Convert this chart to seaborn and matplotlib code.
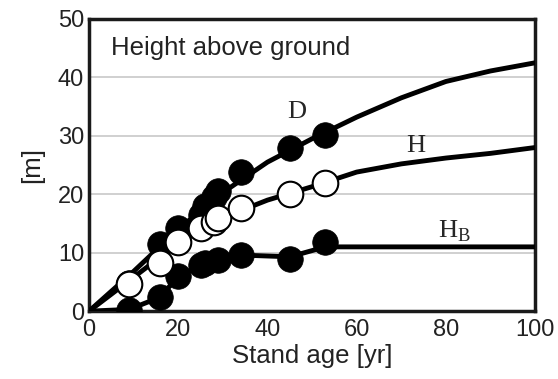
import numpy as np
import pandas as pd
import matplotlib
matplotlib.use("Agg")
import matplotlib.pyplot as plt
import seaborn as sns

# observed points
d_age = [9, 16, 20, 25, 26, 28, 29, 34, 45, 53]
d_obs = [4.8, 11.5, 14.2, 16.5, 18.0, 19.5, 20.5, 23.8, 27.9, 30.2]
h_age = [9, 16, 20, 25, 28, 29, 34, 45, 53]
h_obs = [4.7, 8.3, 11.8, 14.2, 15.2, 16.0, 17.6, 20.1, 22.0]
hb_age = [9, 16, 20, 25, 26, 29, 34, 45, 53]
hb_obs = [0.2, 2.4, 6.0, 7.9, 8.3, 8.7, 9.6, 9.0, 11.9]

# fitted curves
d_curve_age = [0, 10, 20, 30, 40, 50, 60, 70, 80, 90, 100]
d_curve = [0, 6.8, 14.0, 20.3, 25.5, 29.5, 33.2, 36.5, 39.3, 41.1, 42.5]
h_curve_age = [0, 10, 20, 30, 40, 50, 60, 70, 80, 90, 100]
h_curve = [0, 5.8, 11.6, 16.0, 19.0, 21.3, 23.8, 25.2, 26.2, 27.0, 28.0]
hb_curve_age = [0, 9, 16, 20, 26, 29, 34, 45, 53, 100]
hb_curve = [0, 0.3, 2.4, 6.0, 8.1, 8.7, 9.6, 9.3, 11.0, 11.0]

sns.set_style("white")
plt.rcParams["font.family"] = ["Liberation Sans", "DejaVu Sans"]

fig = plt.figure(figsize=(5.58, 3.79), dpi=100)
ax = fig.add_axes([0.1595, 0.179, 0.7995, 0.771])

for a, v in [(d_curve_age, d_curve), (h_curve_age, h_curve), (hb_curve_age, hb_curve)]:
    sns.lineplot(x=a, y=v, ax=ax, color="black", lw=3.5, zorder=3)

sns.scatterplot(x=d_age, y=d_obs, ax=ax, color="black", s=340,
                edgecolor="black", linewidth=0.5, zorder=4)
sns.scatterplot(x=hb_age, y=hb_obs, ax=ax, color="black", s=340,
                edgecolor="black", linewidth=0.5, zorder=4)
sns.scatterplot(x=h_age, y=h_obs, ax=ax, color="white", s=340,
                edgecolor="black", linewidth=1.5, zorder=5)

ax.set_xlim(0, 100)
ax.set_ylim(0, 50)
ax.set_xticks([0, 20, 40, 60, 80, 100])
ax.set_yticks([0, 10, 20, 30, 40, 50])
for yv in [10, 20, 30, 40]:
    ax.axhline(yv, color="#c8c8c8", lw=1.2, zorder=1)
ax.tick_params(axis="both", labelsize=17, colors="#222222", length=0)
ax.tick_params(axis="x", direction="in", length=4, color="#aaaaaa", pad=6)
ax.set_xlabel("Stand age [yr]", fontsize=18.5, color="#222222", labelpad=2)
ax.set_ylabel("[m]", fontsize=18.5, color="#222222", labelpad=10)
for s in ax.spines.values():
    s.set_visible(True)
    s.set_color("#1a1a1a")
    s.set_linewidth(2.5)

ax.text(5, 45, "Height above ground", fontsize=18.5, va="center", color="#222222")
serif = ["Liberation Serif", "DejaVu Serif"]
ax.text(46.5, 34, "D", fontsize=19, family=serif, ha="center", va="center")
ax.text(73.3, 28.2, "H", fontsize=19, family=serif, ha="center", va="center")
ax.text(82, 13.6, r"H$_\mathregular{B}$", fontsize=19, family=serif, ha="center", va="center")

fig.savefig("out.png", dpi=100)
